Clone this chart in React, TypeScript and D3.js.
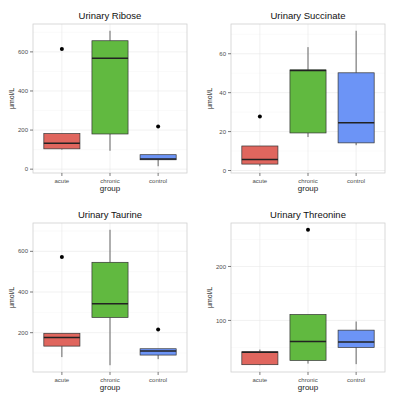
import * as d3 from "d3";

const groups = ["acute", "chronic", "control"];
const groupColors = ["#E0665E", "#61B940", "#6C94F6"];

// box stats per group: [lowWhisker, q1, median, q3, highWhisker]
const riboseBoxes = [
  [100, 104, 133, 182, 182],
  [94, 180, 568, 657, 708],
  [15, 48, 52, 74, 74],
];
const riboseOutliers = [[615], [], [218]];

const succinateBoxes = [
  [2.2, 3.3, 5.7, 12.6, 12.6],
  [17.2, 19.3, 51.4, 51.7, 63.4],
  [13, 14.2, 24.6, 50.2, 71.8],
];
const succinateOutliers = [[27.7], [], []];

const taurineBoxes = [
  [80, 134, 176, 197, 197],
  [40, 275, 342, 546, 706],
  [70, 90, 110, 121, 121],
];
const taurineOutliers = [[572], [], [216]];

const threonineBoxes = [
  [17, 18, 41, 42, 46],
  [20, 26, 61, 111, 111],
  [19, 50, 60, 82, 98],
];
const threonineOutliers = [[], [268], []];

const titles = ["Urinary Ribose", "Urinary Succinate", "Urinary Taurine", "Urinary Threonine"];

const font = "'Liberation Sans', Arial, sans-serif";

function Panel({
  x0,
  y0,
  title,
  boxes,
  outliers,
}: {
  x0: number;
  y0: number;
  title: string;
  boxes: number[][];
  outliers: number[][];
}) {
  const left = x0 + 33;
  const right = x0 + 187;
  const top = y0 + 24;
  const bottom = y0 + 173;

  const allVals = [...boxes.flat(), ...outliers.flat()];
  const [lo, hi] = d3.extent(allVals) as [number, number];
  const pad = (hi - lo) * 0.05;
  const y = d3.scaleLinear().domain([lo - pad, hi + pad]).range([bottom, top]);
  const x = d3.scalePoint().domain(groups).range([left, right]).padding(0.6);
  const boxW = x.step() * 0.75;

  const ticks = y.ticks(3);
  const step = ticks[1] - ticks[0];
  const minor = d3
    .range(ticks[0] - step / 2, hi + pad + step, step)
    .filter((v) => y(v) >= top && y(v) <= bottom);

  return (
    <g>
      <text
        x={(left + right) / 2}
        y={y0 + 19}
        textAnchor="middle"
        fontSize={9.5}
        fontFamily={font}
        fill="#111"
      >
        {title}
      </text>
      <rect x={left} y={top} width={right - left} height={bottom - top} fill="white" />
      {minor.map((v) => (
        <line key={"m" + v} x1={left} x2={right} y1={y(v)} y2={y(v)} stroke="#f4f4f4" strokeWidth={0.5} />
      ))}
      {ticks.map((v) => (
        <line key={"g" + v} x1={left} x2={right} y1={y(v)} y2={y(v)} stroke="#e8e8e8" strokeWidth={0.6} />
      ))}
      {groups.map((g) => (
        <line key={"v" + g} x1={x(g)} x2={x(g)} y1={top} y2={bottom} stroke="#e8e8e8" strokeWidth={0.6} />
      ))}
      {boxes.map((b, i) => {
        const cx = x(groups[i]) as number;
        return (
          <g key={i}>
            <line x1={cx} x2={cx} y1={y(b[0])} y2={y(b[1])} stroke="#555" strokeWidth={0.9} />
            <line x1={cx} x2={cx} y1={y(b[3])} y2={y(b[4])} stroke="#555" strokeWidth={0.9} />
            <rect
              x={cx - boxW / 2}
              y={y(b[3])}
              width={boxW}
              height={y(b[1]) - y(b[3])}
              fill={groupColors[i]}
              stroke="#333"
              strokeWidth={0.7}
            />
            <line
              x1={cx - boxW / 2}
              x2={cx + boxW / 2}
              y1={y(b[2])}
              y2={y(b[2])}
              stroke="#222"
              strokeWidth={1.5}
            />
            {outliers[i].map((o, j) => (
              <circle key={j} cx={cx} cy={y(o)} r={2} fill="#000" />
            ))}
          </g>
        );
      })}
      <rect
        x={left}
        y={top}
        width={right - left}
        height={bottom - top}
        fill="none"
        stroke="#d0d0d0"
        strokeWidth={0.8}
      />
      {ticks.map((v) => (
        <g key={"t" + v}>
          <line x1={left - 3} x2={left} y1={y(v)} y2={y(v)} stroke="#444" strokeWidth={0.7} />
          <text
            x={left - 5}
            y={y(v)}
            dy="0.35em"
            textAnchor="end"
            fontSize={6}
            fontFamily={font}
            fill="#4d4d4d"
          >
            {v}
          </text>
        </g>
      ))}
      {groups.map((g) => (
        <g key={"x" + g}>
          <line x1={x(g)} x2={x(g)} y1={bottom} y2={bottom + 3} stroke="#444" strokeWidth={0.7} />
          <text
            x={x(g)}
            y={bottom + 10}
            textAnchor="middle"
            fontSize={6}
            fontFamily={font}
            fill="#4d4d4d"
          >
            {g}
          </text>
        </g>
      ))}
      <text
        x={(left + right) / 2}
        y={bottom + 18}
        textAnchor="middle"
        fontSize={8}
        fontFamily={font}
        fill="#222"
      >
        group
      </text>
      <text
        transform={`translate(${x0 + 14},${(top + bottom) / 2}) rotate(-90)`}
        textAnchor="middle"
        fontSize={7}
        fontFamily={font}
        fill="#222"
      >
        µmol/L
      </text>
    </g>
  );
}

export default function App() {
  return (
    <svg
      width={398}
      height={398}
      style={{ position: "absolute", left: 0, top: 0, background: "white" }}
    >
      <rect width={398} height={398} fill="white" />
      <Panel x0={0} y0={0} title={titles[0]} boxes={riboseBoxes} outliers={riboseOutliers} />
      <Panel x0={198} y0={0} title={titles[1]} boxes={succinateBoxes} outliers={succinateOutliers} />
      <Panel x0={0} y0={199} title={titles[2]} boxes={taurineBoxes} outliers={taurineOutliers} />
      <Panel x0={198} y0={199} title={titles[3]} boxes={threonineBoxes} outliers={threonineOutliers} />
    </svg>
  );
}
